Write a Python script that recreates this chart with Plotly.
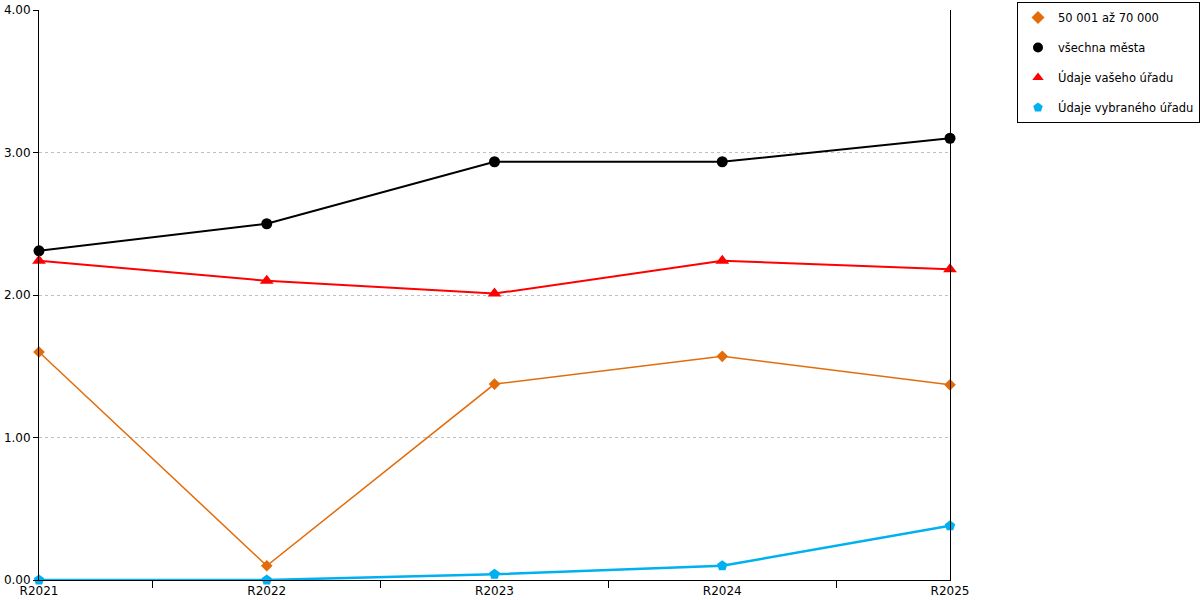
import plotly.graph_objects as go

categories = ["R2021", "R2022", "R2023", "R2024", "R2025"]
names = ["50 001 až 70 000", "všechna města", "Údaje vašeho úřadu", "Údaje vybraného úřadu"]
orange_vals = [1.60, 0.10, 1.375, 1.57, 1.37]
black_vals = [2.31, 2.50, 2.935, 2.935, 3.10]
red_vals = [2.24, 2.10, 2.01, 2.24, 2.18]
blue_vals = [0.0, 0.0, 0.04, 0.10, 0.38]
y_ticks = [0, 1, 2, 3, 4]

series = [
    (names[0], orange_vals, "#E36C0A", "diamond", 9, 1.5),
    (names[1], black_vals, "#000000", "circle", 11, 2),
    (names[2], red_vals, "#FF0000", "triangle-up", 12, 2),
    (names[3], blue_vals, "#00B0F0", "pentagon", 11, 2.5),
]

W, H = 1200, 600
x = list(range(len(categories)))
fig = go.Figure()
for name, vals, color, sym, size, lw in series:
    fig.add_trace(go.Scatter(
        x=x, y=vals, name=name, mode="lines+markers",
        line=dict(color=color, width=lw),
        marker=dict(color=color, symbol=sym, size=size),
        cliponaxis=False, showlegend=False,
    ))
for name, vals, color, sym, size, lw in series:
    fig.add_trace(go.Scatter(
        x=[None], y=[None], name=name, mode="markers",
        marker=dict(color=color, symbol=sym, size=10),
        legendgroup=name, showlegend=True,
    ))

fig.update_layout(
    width=W, height=H,
    margin=dict(l=39, r=250, t=10, b=20, autoexpand=False),
    plot_bgcolor="white", paper_bgcolor="white",
    font=dict(family="DejaVu Sans", size=12, color="#000000"),
    legend=dict(
        xref="container", yref="container",
        x=1017 / W, y=1 - 2 / H, xanchor="left", yanchor="top",
        bordercolor="#000000", borderwidth=1,
        font=dict(size=11.5), tracegroupgap=11,
        itemwidth=30,
    ),
    showlegend=True,
)
fig.update_xaxes(
    range=[0, 4], tickvals=x, ticktext=categories,
    showgrid=False, zeroline=False, automargin=False,
    showline=True, linecolor="#000000", linewidth=1,
    ticks="", tickfont=dict(size=12),
    minor=dict(tickvals=[0.5, 1.5, 2.5, 3.5], ticks="outside", ticklen=7,
               tickcolor="#000000", showgrid=False),
)
fig.update_yaxes(
    range=[0, 4], tickvals=y_ticks, tickformat=".2f",
    showgrid=True, gridcolor="#c0c0c0", griddash="dot", gridwidth=1,
    zeroline=False, automargin=False,
    showline=True, mirror=True, linecolor="#000000", linewidth=1,
    ticks="outside", ticklen=5, tickcolor="#000000",
    tickfont=dict(size=12),
)

fig.write_html("out.html", config={"displayModeBar": False},
               post_script="document.body.style.margin='0';")
